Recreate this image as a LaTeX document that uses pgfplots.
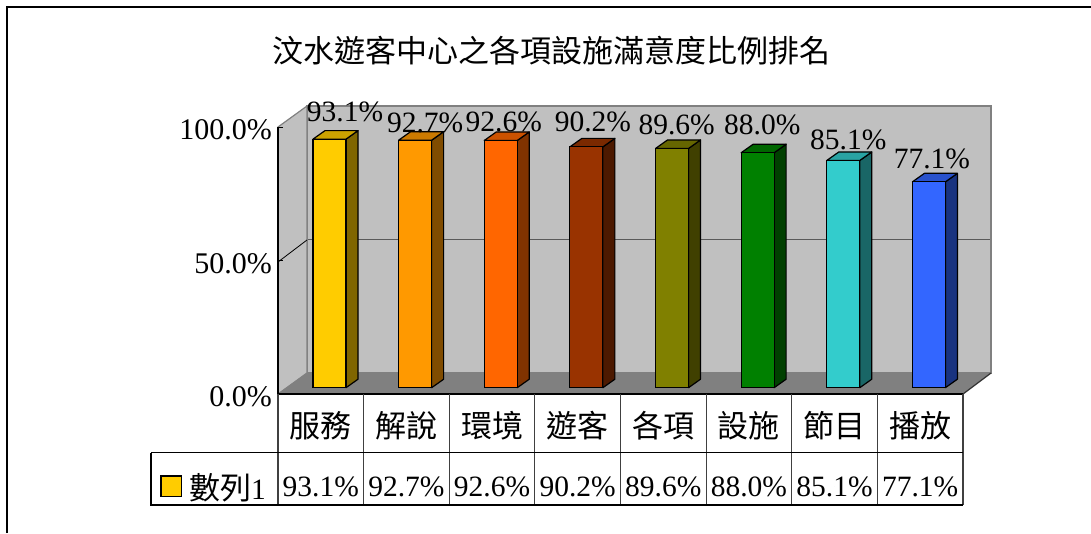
\documentclass[border=0pt]{standalone}
\usepackage{pgfplots}
\usepackage{pgfplotstable}
\pgfplotsset{compat=1.18}
\usepackage{fontspec}
\setmainfont{Liberation Serif}
\newfontfamily\cjk{Noto Sans CJK TC}

\definecolor{wall}{RGB}{192,192,192}
\definecolor{floorc}{RGB}{128,128,128}
\definecolor{edge}{RGB}{128,128,128}
\definecolor{gridc}{RGB}{90,90,90}
\definecolor{c0}{HTML}{FFCC00}
\definecolor{c1}{HTML}{FF9900}
\definecolor{c2}{HTML}{FF6600}
\definecolor{c3}{HTML}{993300}
\definecolor{c4}{HTML}{808000}
\definecolor{c5}{HTML}{008000}
\definecolor{c6}{HTML}{33CCCC}
\definecolor{c7}{HTML}{3366FF}

\newcommand\numfont{\fontsize{29.5}{34}\selectfont}
\newcommand\catfont{\cjk\fontsize{31}{36}\selectfont}

\pgfkeys{/pgf/number format/assume math mode=true}

% value of each bar; dx, dy place its label
\pgfplotstableread{
x    v     dx    dy
0.5  93.1  15.5  27
1.5  92.7  10    17
2.5  92.6  3     18.5
3.5  90.2  6.5   25
4.5  89.6  4.7   24
5.5  88.0  4.6   27.7
6.5  85.1  5     20.5
7.5  77.1  3     23
}\bardata

\pgfplotsset{
  front/.style={ybar, bar width=33pt, bar shift=0pt, fill=#1, draw=black, line width=1.2pt},
  vlabel/.style 2 args={
    only marks, mark=*, mark size=0pt, mark options={draw=none, fill=none},
    point meta=y,
    nodes near coords={\pgfmathprintnumber[fixed,fixed zerofill,precision=1]{\pgfplotspointmeta}\%},
    every node near coord/.style={anchor=center, inner sep=0pt, text=black, font=\numfont, xshift=#1pt, yshift=#2pt},
  },
}

\begin{document}
\begin{tikzpicture}
\useasboundingbox (0,0) rectangle (1091pt,-533pt);

% outer frame
\draw[line width=2.5pt] (7pt,-533pt) -- (7pt,-7pt) -- (1091pt,-7pt);

% title
\node at (551pt,-51pt) {\catfont 汶水遊客中心之各項設施滿意度比例排名};

% back wall
\begin{axis}[
  at={(307pt,-373pt)}, anchor=origin,
  x=85.5pt, y=2.67pt,
  xmin=0, xmax=8, ymin=0, ymax=100,
  axis background/.style={fill=wall},
  axis line style={draw=edge, line width=1.5pt},
  xtick=\empty, ytick={50}, yticklabels={},
  major tick length=0pt,
  ymajorgrids, grid style={draw=gridc, line width=1.6pt},
]
\end{axis}

% side wall and floor
\filldraw[fill=wall, draw=edge, line width=1.2pt] (278pt,-394pt) -- (278pt,-127pt) -- (307pt,-106pt) -- (307pt,-373pt) -- cycle;
\draw[black, line width=0.8pt] (278pt,-262pt) -- (307pt,-240pt);
\filldraw[fill=floorc, draw=floorc] (278pt,-394pt) -- (963pt,-394pt) -- (991pt,-373pt) -- (307pt,-373pt) -- cycle;
\draw[black!80, line width=1.2pt] (963pt,-394pt) -- (991pt,-373pt);

% front axis with data table
\begin{axis}[
  at={(278pt,-394pt)}, anchor=origin,
  x=85.625pt, y=2.67pt,
  xmin=0, xmax=8, ymin=0, ymax=100,
  enlargelimits=false, clip=false,
  axis lines*=left,
  axis line style={black, line width=1.2pt},
  /pgf/number format/assume math mode=true,
  ytick={0,50,100},
  yticklabel={\pgfmathprintnumber[fixed,fixed zerofill,precision=1]{\tick}\%},
  yticklabel style={font=\fontsize{30}{34}\selectfont, anchor=east, inner sep=0pt, xshift=-6pt, yshift=-3pt},
  tick align=inside, major tick length=5pt,
  ytick style={black, line width=1pt},
  xtick={0.5,1.5,...,7.5},
  xticklabels={服務,解說,環境,遊客,各項,設施,節目,播放},
  xticklabel style={font=\catfont, anchor=center, inner sep=0pt, yshift=-31.5pt},
  xtick style={draw=none},
]
\addplot[only marks, mark=*, mark size=0pt, mark options={draw=none, fill=none},
  point meta=\thisrow{v},
  nodes near coords={\pgfmathprintnumber[fixed,fixed zerofill,precision=1]{\pgfplotspointmeta}\%},
  every node near coord/.style={anchor=center, inner sep=0pt, font=\numfont}]
  table[x=x, y expr=-34.8] {\bardata};
% table rules
\pgfplotsinvokeforeach{0,...,8}{
  \draw[black!75, line width=1.2pt] (axis cs:#1,0) -- (axis cs:#1,-41.6);
}
\draw[black, line width=1.2pt] (axis cs:-1.483,-22) -- (axis cs:8,-22);
\draw[black, line width=1.2pt] (axis cs:-1.483,-22) -- (axis cs:-1.483,-41.6) -- (axis cs:8,-41.6);
\end{axis}

% legend key of the table
\filldraw[fill=c0, draw=black, line width=1.2pt] (161pt,-476pt) rectangle (181.5pt,-496.5pt);
\node[inner sep=0pt] at (227.5pt,-488pt) {{\catfont 數列}\numfont 1};

% bars
\begin{axis}[
  at={(286.7pt,-387.7pt)}, anchor=origin,
  x=85.625pt, y=2.67pt,
  xmin=0, xmax=8, ymin=0, ymax=100,
  hide axis, clip=false,
]
\pgfplotsinvokeforeach{0,...,7}{
  \pgfplotstablegetelem{#1}{v}\of\bardata \let\bv\pgfplotsretval
  \pgfplotstablegetelem{#1}{dx}\of\bardata \let\bdx\pgfplotsretval
  \pgfplotstablegetelem{#1}{dy}\of\bardata \let\bdy\pgfplotsretval
  \edef\temp{%
    \noexpand\filldraw[fill=c#1!50!black, draw=black, line width=1.2pt, line join=round]
      ([xshift=16.5pt]axis cs:#1.5,0) -- ++(12pt,8.5pt)
      -- ([shift={(28.5pt,8.5pt)}]axis cs:#1.5,\bv)
      -- ([xshift=16.5pt]axis cs:#1.5,\bv) -- cycle;
    \noexpand\filldraw[fill=c#1!80!black, draw=black, line width=1.2pt, line join=round]
      ([xshift=-16.5pt]axis cs:#1.5,\bv) -- ([xshift=16.5pt]axis cs:#1.5,\bv)
      -- ++(12pt,8.5pt) -- ([shift={(-4.5pt,8.5pt)}]axis cs:#1.5,\bv) -- cycle;
    \noexpand\addplot[front=c#1] coordinates {(#1.5,\bv)};
    \noexpand\addplot[vlabel={\bdx}{\bdy}] coordinates {(#1.5,\bv)};
  }\temp
}
\end{axis}
\end{tikzpicture}
\end{document}
